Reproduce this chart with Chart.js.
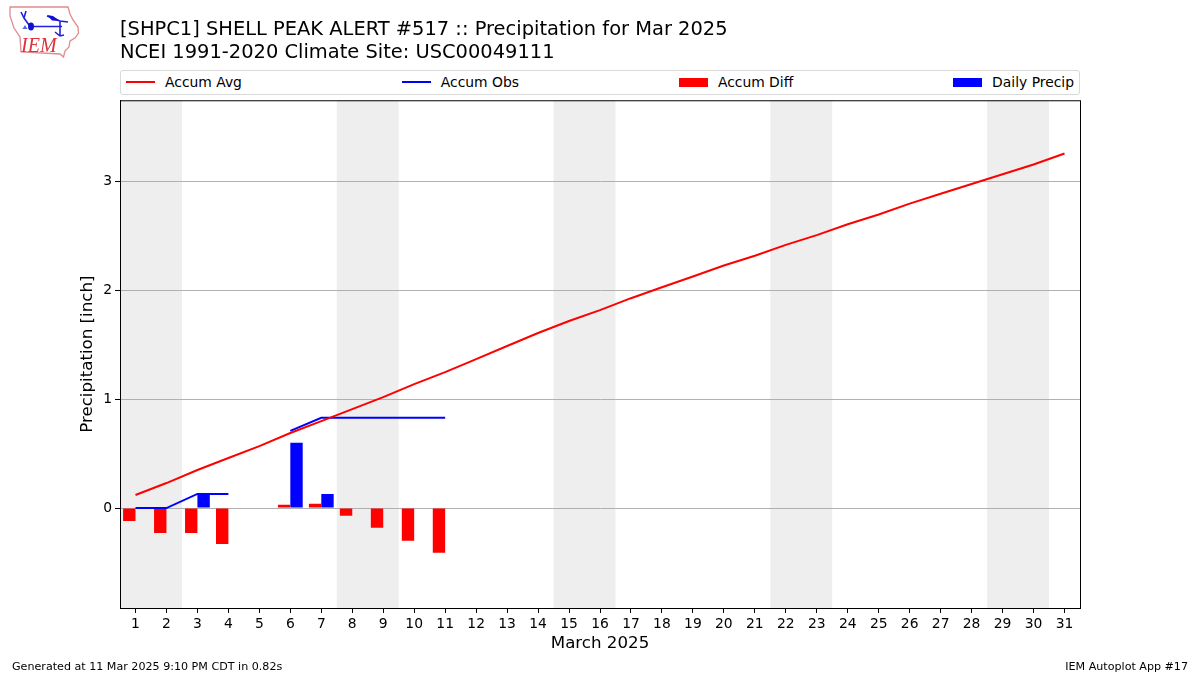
<!DOCTYPE html>
<html>
<head>
<meta charset="utf-8">
<script src="https://cdn.jsdelivr.net/npm/chart.js@4"></script>
<style>
html,body{margin:0;padding:0;background:#fff;width:1200px;height:675px;overflow:hidden;font-family:"DejaVu Sans",sans-serif;color:#000}
#wrap{position:relative;width:1200px;height:675px}
canvas{position:absolute;left:0;top:0}
#legend{position:absolute;left:120px;top:70px;width:960px;height:25px;box-sizing:border-box;border:1px solid #d9d9d9;border-radius:3px;display:flex;justify-content:space-between;align-items:center;padding:0 5px 1px 5px;font-size:13.89px;background:#fff}
.item{display:flex;align-items:center;white-space:nowrap}
.sw{display:inline-block;width:29px;margin-right:10px}
.foot{position:absolute;top:660px;font-size:11.12px;white-space:nowrap}
#logo{position:absolute;left:0;top:0}
</style>
</head>
<body>
<div id="wrap">
<canvas id="c" width="1200" height="675"></canvas>
<div id="legend"></div>
<svg id="logo" width="90" height="62" viewBox="0 0 90 62">
<path d="M10 7L68 7L70 14L73 20L78 27L78.500 33L75 38L70 41L69 47L65 51L63.500 57L60 54L21 52L20 37L14 28L10 16Z" fill="#fff" stroke="#e08a8a" stroke-width="1.300"/>
<path d="M31 26.500H62M47 16L60 21L68 22M60 21V36M55 32L60 36L64 35M21 12L24 18L29 25M26 11L24 18" fill="none" stroke="#2222dd" stroke-width="1.600"/>
<ellipse cx="31" cy="26.500" rx="3" ry="4" fill="#1111cc"/>
<path d="M47 15L53 16L60 21L52 20.500Z" fill="#1111cc"/>
<path d="M25 25L27.500 29H22.500Z" fill="#5566dd"/>
<text x="21" y="52" font-family="Liberation Serif" font-style="italic" font-size="20" fill="#d8343c">IEM</text>
</svg>
<div class="foot" style="left:12px">Generated at 11 Mar 2025 9:10 PM CDT in 0.82s</div>
<div class="foot" style="right:12px">IEM Autoplot App #17</div>
</div>
<script>
const days = ["1","2","3","4","5","6","7","8","9","10","11","12","13","14","15","16","17","18","19","20","21","22","23","24","25","26","27","28","29","30","31"];
const accumAvg = [0.12,0.23,0.35,0.46,0.57,0.69,0.80,0.91,1.02,1.14,1.25,1.37,1.49,1.61,1.72,1.82,1.93,2.03,2.13,2.23,2.32,2.42,2.51,2.61,2.70,2.80,2.89,2.98,3.07,3.16,3.26];
const accumObs = [0,0,0.13,0.13,null,0.71,0.83,0.83,0.83,0.83,0.83];
const accumDiff = [-0.12,-0.23,-0.23,-0.33,null,0.03,0.04,-0.07,-0.18,-0.30,-0.41];
const dailyPrecip = [0,0,0.13,0,null,0.60,0.13,0,0,0,0];
const weekends = [["1","2"],["8","9"],["15","16"],["22","23"],["29","30"]];
const yTicks = [0,1,2,3];
const yMin = -0.919, yMax = 3.75;
const titleLines = ["[SHPC1] SHELL PEAK ALERT #517 :: Precipitation for Mar 2025","NCEI 1991-2020 Climate Site: USC00049111"];
const FONT = "DejaVu Sans";

const backdrop = {
  id:"backdrop",
  beforeDraw(chart){
    const {ctx,chartArea:a,scales:{x}} = chart;
    ctx.save();
    ctx.fillStyle="#fff";ctx.fillRect(0,0,chart.width,chart.height);
    ctx.fillStyle="#eeeeee";
    const half = x.getPixelForValue(1)-x.getPixelForValue(0);
    weekends.forEach(w=>{
      const l = x.getPixelForValue(days.indexOf(w[0]))-half/2;
      const r = x.getPixelForValue(days.indexOf(w[1]))+half/2;
      ctx.fillRect(l,a.top,r-l,a.bottom-a.top);
    });
    ctx.restore();
  },
  afterDraw(chart){
    const {ctx,chartArea:a} = chart;
    ctx.save();
    ctx.strokeStyle="#000";ctx.lineWidth=1;
    ctx.strokeRect(a.left+.5,a.top+.5,a.right-a.left,a.bottom-a.top);
    ctx.restore();
  }
};

const chart = new Chart(document.getElementById("c"),{
  type:"bar",
  data:{labels:days,datasets:[
    {type:"line",label:"Accum Avg",data:accumAvg,borderColor:"#ff0000",backgroundColor:"#ff0000",borderWidth:2,pointRadius:0,tension:0,order:1},
    {type:"line",label:"Accum Obs",data:accumObs,borderColor:"#0000ff",backgroundColor:"#0000ff",borderWidth:2,pointRadius:0,tension:0,spanGaps:false,order:1},
    {label:"Accum Diff",data:accumDiff,backgroundColor:"#ff0000",borderWidth:0,categoryPercentage:0.8,barPercentage:1,order:2},
    {label:"Daily Precip",data:dailyPrecip,backgroundColor:"#0000ff",borderWidth:0,categoryPercentage:0.8,barPercentage:1,order:2}
  ]},
  options:{
    responsive:false,animation:false,devicePixelRatio:1,
    layout:{padding:{left:0,right:120,top:0,bottom:0}},
    font:{family:FONT},
    plugins:{
      legend:{display:false},tooltip:{enabled:false},
      title:{display:true,fullSize:false,text:titleLines,align:"start",color:"#000",
        font:{family:FONT,size:19.44,weight:"normal",lineHeight:1.19},padding:{top:18,bottom:36}}
    },
    scales:{
      x:{type:"category",offset:true,
        grid:{offset:false,drawOnChartArea:false,tickLength:5,tickColor:"#000",tickWidth:1},
        border:{color:"#000"},
        ticks:{color:"#000",font:{family:FONT,size:13.89},maxRotation:0,autoSkip:false,padding:3},
        title:{display:true,text:"March 2025",color:"#000",font:{family:FONT,size:16.67},padding:{top:2,bottom:21}},
        afterFit(s){s.height=67;}
      },
      y:{min:yMin,max:yMax,
        afterBuildTicks(s){s.ticks=yTicks.map(v=>({value:v}));},
        grid:{color:"#b0b0b0",lineWidth:1,tickLength:5,tickColor:"#000"},
        border:{color:"#000"},
        ticks:{color:"#000",font:{family:FONT,size:13.89},padding:3},
        title:{display:true,text:"Precipitation [inch]",color:"#000",font:{family:FONT,size:16.67},padding:{top:78,bottom:0}},
        afterFit(s){s.width=120;}
      }
    }
  },
  plugins:[backdrop]
});

const legend = document.getElementById("legend");
chart.data.datasets.forEach(d=>{
  const item=document.createElement("div");item.className="item";
  const sw=document.createElement("span");sw.className="sw";
  sw.style.height=d.type==="line"?"2px":"9px";
  sw.style.background=d.backgroundColor;
  item.appendChild(sw);
  item.appendChild(document.createTextNode(d.label));
  legend.appendChild(item);
});
</script>
</body>
</html>
